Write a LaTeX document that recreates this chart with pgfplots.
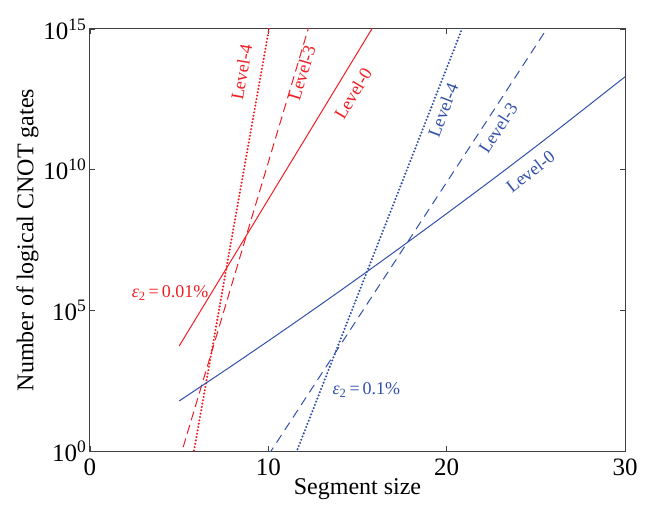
\documentclass[border=0pt]{standalone}
\usepackage{pgfplots}
\pgfplotsset{compat=1.18}
\usetikzlibrary{calc}
\usepackage{fontspec}
\setmainfont{Liberation Serif}

\definecolor{lred}{RGB}{240,30,35}
\definecolor{lblue}{RGB}{50,80,170}

\begin{document}
\begin{tikzpicture}
  \begin{axis}[
    scale only axis,
    width=535pt, height=422pt,
    xmin=0, xmax=30,
    ymode=log, ymin=1, ymax=1e15,
    xtick={0,10,20,30},
    ytick={1,1e5,1e10,1e15},
    yticklabels={10\textsuperscript{0},10\textsuperscript{5},10\textsuperscript{10},10\textsuperscript{15}},
    yminorticks=false,
    tick align=inside,
    major tick length=5pt,
    tick style={black!75, line width=0.8pt},
    axis line style={black!75, line width=1pt},
    xlabel={Segment size},
    ylabel={Number of logical CNOT gates},
    label style={font=\fontsize{24}{28}\selectfont},
    tick label style={font=\fontsize{25}{28}\selectfont},
    xticklabel style={yshift=-4pt},
    xlabel style={yshift=4pt},
    ylabel style={yshift=-2pt},
    /pgf/number format/assume math mode=true,
    clip=true,
  ]
    % eps_2 = 0.01%
    \addplot[lred, line width=1pt] coordinates
      {(5,5.4e3) (8,7.2e6) (11,9.7e9) (14,1.31e13) (16,1.6e15)};
    \addplot[lred, line width=1pt, dash pattern=on 9pt off 5pt] coordinates
      {(5,0.46) (7,7.9e3) (9,1.4e8) (11,2.4e12) (12.3,1.4e15)};
    \addplot[lred, line width=2.3pt, line cap=round, dash pattern=on 0pt off 3.4pt] coordinates
      {(5.7,0.35) (7,1.5e4) (8,5.6e7) (9,2.1e11) (10.1,1.7e15)};

    % eps_2 = 0.1%
    \addplot[lblue, line width=1pt, smooth] coordinates
      {(5,60) (8,1.12e3) (11,2.24e4) (14,4.8e5) (17,1.11e7) (20,2.75e8)
       (23,7.2e9) (26,2.05e11) (30,2.0e13)};
    \addplot[lblue, line width=1pt, dash pattern=on 9pt off 6pt] coordinates
      {(10,0.71) (14,5.4e3) (18,4.1e7) (22,3.1e11) (26,2.4e15)};
    \addplot[lblue, line width=2.3pt, line cap=round, dash pattern=on 0pt off 3.4pt] coordinates
      {(11.5,0.69) (14,7.8e3) (17,5.6e8) (21,1.7e15)};

    \begin{scope}[font=\fontsize{18}{20}\selectfont]
      \node[lred, rotate=80] at (axis cs:8.5,2.9e13) {Level-4};
      \node[lred, rotate=73] at (axis cs:11.89,2.8e13) {Level-3};
      \node[lred, rotate=59] at (axis cs:14.75,5.0e12) {Level-0};
      \node[lblue, rotate=69] at (axis cs:19.8,1.3e12) {Level-4};
      \node[lblue, rotate=57] at (axis cs:22.88,3.0e11) {Level-3};
      \node[lblue, rotate=38] at (axis cs:24.7,8.5e9) {Level-0};
      \node[lred] at (axis cs:4.49,4.2e5) {{\itshape ε}\textsubscript{2}\,=\,0.01\%};
      \node[lblue] at (axis cs:15.5,1.5e2) {{\itshape ε}\textsubscript{2}\,=\,0.1\%};
    \end{scope}
  \end{axis}
  \pgfresetboundingbox
  \path[use as bounding box] ($(current axis.south west)+(-90pt,-55pt)$)
    rectangle ($(current axis.north east)+(25pt,29pt)$);
\end{tikzpicture}
\end{document}
